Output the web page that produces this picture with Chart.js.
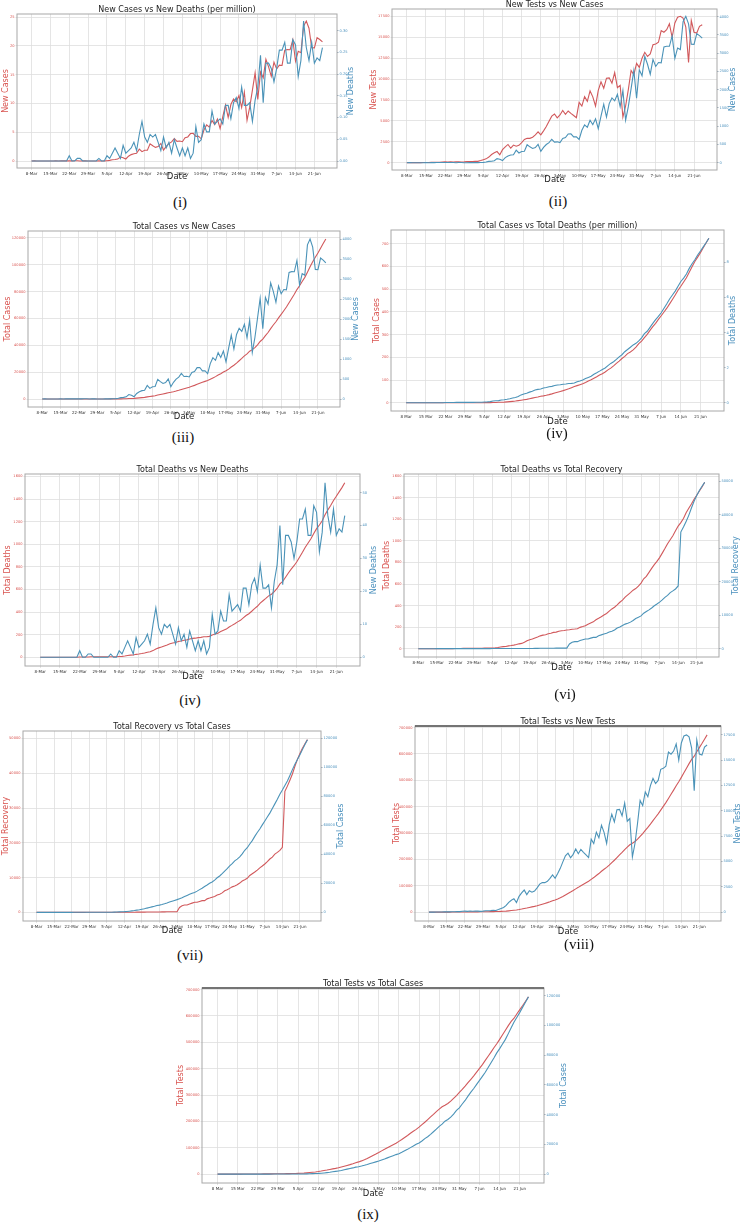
<!DOCTYPE html>
<html>
<head>
<meta charset="utf-8">
<title>COVID-19 dual axis charts</title>
<script src="https://cdn.jsdelivr.net/npm/chart.js@4.4.0/dist/chart.umd.min.js"></script>
<style>
  html, body { margin: 0; padding: 0; background: #fff; }
  body { position: relative; width: 744px; height: 1224px; overflow: hidden; }
  canvas { position: absolute; }
  .cap { position: absolute; transform: translate(-50%, -50%); font-family: "Liberation Serif", "DejaVu Serif", serif; font-size: 15px; color: #111; white-space: nowrap; }
</style>
</head>
<body>
<script>
// daily values, index 0 = 8 Mar ... index 108 = 24 Jun
const weekLabels = ['8-Mar','15-Mar','22-Mar','29-Mar','5-Apr','12-Apr','19-Apr','26-Apr','3-May','10-May','17-May','24-May','31-May','7-Jun','14-Jun','21-Jun'];
const weekLabelsSpaced = ['8 Mar','15 Mar','22 Mar','29 Mar','5 Apr','12 Apr','19 Apr','26 Apr','3 May','10 May','17 May','24 May','31 May','7 Jun','14 Jun','21 Jun'];

const newCases = [0,3,0,0,0,0,0,2,0,3,2,4,3,3,4,3,6,6,0,5,4,0,0,1,2,
  3,2,5,9,18,35,41,54,112,94,58,139,182,209,219,341,266,306,312,492,434,390,414,503,309,418,497,549,641,564,
  571,552,665,688,786,790,706,709,636,887,1034,969,1162,1041,1202,930,1273,1602,1251,1617,1773,1694,1873,1532,1975,1166,1541,2029,2523,1764,2545,
  2381,2911,2695,2423,2828,2635,2743,2735,3171,3190,3187,3471,2856,3141,3099,3862,4008,3803,3243,3240,3531,3480,3412];

const totalCases = [0,3,3,3,3,3,3,5,5,8,10,14,17,20,24,27,33,39,39,44,48,48,48,49,51,
  54,56,61,70,88,123,164,218,330,424,482,621,803,1012,1231,1572,1838,2144,2456,2948,3382,3772,4186,4689,4998,5416,5913,6462,7103,7667,
  8238,8790,9455,10143,10929,11719,12425,13134,13770,14657,15691,16660,17822,18863,20065,20995,22268,23870,25121,26738,28511,30205,32078,33610,35585,36751,38292,40321,42844,44608,47153,
  49534,52445,55140,57563,60391,63026,65769,68504,71675,74865,78052,81523,84379,87520,90619,94481,98489,102292,105535,108775,112306,115786,119198];

const newDeaths = [0,0,0,0,0,0,0,0,0,0,0,0,0,0,
  2,0,0,1,1,0,0,0,0,0,0,
  1,0,0,2,1,3,5,3,1,6,3,4,5,7,4,10,15,9,7,10,9,10,7,4,9,5,7,3,8,5,
  2,5,2,5,1,3,13,7,8,14,11,11,19,14,15,16,14,21,21,16,22,24,20,28,21,21,22,15,23,28,40,
  22,37,37,35,30,35,42,42,45,37,37,46,44,32,38,53,43,38,45,37,39,38,43];

const totalDeaths = [0,0,0,0,0,0,0,0,0,0,0,0,0,0,
  2,2,2,3,4,4,4,4,4,4,4,
  5,5,5,7,8,11,16,19,20,26,29,33,38,45,49,59,74,83,90,100,109,119,126,130,139,144,151,154,162,167,
  169,174,176,181,182,185,198,205,213,227,238,249,268,282,297,313,327,348,369,385,407,431,451,479,500,521,543,558,581,609,649,
  671,708,745,780,810,845,887,929,974,1011,1048,1094,1138,1170,1208,1261,1304,1342,1387,1424,1463,1501,1544];

const newCasesPM = [0,0.02,0,0,0,0,0,0.01,0,0.02,0.01,0.02,0.02,0.02,0.02,0.02,0.04,0.04,0,0.03,0.02,0,0,0.01,0.01,
  0.02,0.01,0.03,0.05,0.11,0.21,0.25,0.33,0.68,0.57,0.35,0.84,1.11,1.27,1.33,2.07,1.62,1.86,1.89,2.99,2.64,2.37,2.51,3.05,1.88,2.54,3.02,3.33,3.89,3.42,
  3.47,3.35,4.04,4.18,4.77,4.80,4.29,4.31,3.86,5.39,6.28,5.88,7.06,6.32,7.30,5.65,7.73,9.73,7.60,9.82,10.77,10.29,11.37,9.30,11.99,7.08,9.36,12.32,15.32,10.71,15.45,
  14.46,17.68,16.36,14.71,17.17,16.00,16.66,16.61,19.25,19.37,19.35,21.08,17.34,19.07,18.82,23.45,24.34,23.09,19.69,19.67,21.44,21.13,20.72];

const newDeathsPM = [0,0,0,0,0,0,0,0,0,0,0,0,0,0,
  0.012,0,0,0.006,0.006,0,0,0,0,0,0,
  0.006,0,0,0.012,0.006,0.018,0.030,0.018,0.006,0.036,0.018,0.024,0.030,0.043,0.024,0.061,0.091,0.055,0.043,0.061,0.055,0.061,0.043,0.024,0.055,0.030,0.043,0.018,0.049,0.030,
  0.012,0.030,0.012,0.030,0.006,0.018,0.079,0.043,0.049,0.085,0.067,0.067,0.115,0.085,0.091,0.097,0.085,0.128,0.128,0.097,0.134,0.146,0.121,0.170,0.128,0.128,0.134,0.091,0.140,0.170,0.243,
  0.134,0.225,0.225,0.213,0.182,0.213,0.255,0.255,0.273,0.225,0.225,0.279,0.267,0.194,0.231,0.322,0.261,0.231,0.273,0.225,0.237,0.231,0.261];

const totalCasesPM = [0,0.02,0.02,0.02,0.02,0.02,0.02,0.03,0.03,0.05,0.06,0.09,0.10,0.12,0.15,0.16,0.20,0.24,0.24,0.27,0.29,0.29,0.29,0.30,0.31,
  0.33,0.34,0.37,0.43,0.53,0.75,1.0,1.3,2.0,2.6,2.9,3.8,4.9,6.1,7.5,9.5,11.2,13.0,14.9,17.9,20.5,22.9,25.4,28.5,30.3,32.9,35.9,39.2,43.1,46.6,
  50.0,53.4,57.4,61.6,66.4,71.2,75.4,79.7,83.6,89.0,95.3,101.2,108.2,114.5,121.8,127.5,135.2,144.9,152.5,162.4,173.1,183.4,194.8,204.1,216.1,223.2,232.5,244.8,260.1,270.9,286.3,
  300.8,318.4,334.8,349.5,366.7,382.7,399.3,416.0,435.2,454.6,473.9,495.0,512.3,531.4,550.2,573.7,598.0,621.1,640.8,660.5,681.9,703.1,723.8];

const totalDeathsPM = [0,0,0,0,0,0,0,0,0,0,0,0,0,0,
  0.012,0.012,0.012,0.018,0.024,0.024,0.024,0.024,0.024,0.024,0.024,
  0.030,0.030,0.030,0.043,0.049,0.067,0.097,0.115,0.121,0.158,0.176,0.200,0.231,0.273,0.298,0.358,0.449,0.504,0.546,0.607,0.662,0.723,0.765,0.789,0.844,0.874,0.917,0.935,0.984,1.014,
  1.026,1.057,1.069,1.099,1.105,1.123,1.202,1.245,1.293,1.378,1.445,1.512,1.627,1.712,1.803,1.901,1.986,2.113,2.241,2.338,2.471,2.617,2.738,2.908,3.036,3.164,3.297,3.388,3.528,3.698,3.941,
  4.074,4.299,4.524,4.736,4.918,5.131,5.386,5.641,5.914,6.139,6.363,6.643,6.910,7.104,7.335,7.657,7.918,8.149,8.422,8.647,8.883,9.114,9.375];

const totalRecovery = [0,0,0,0,0,0,0,3,3,3,3,3,3,3,3,3,3,7,7,11,15,19,25,26,26,
  26,26,30,33,33,33,33,33,33,36,39,42,42,49,49,58,58,66,75,85,92,108,112,113,122,131,150,155,160,174,
  177,177,1403,1910,2101,2101,2414,2650,2902,2902,3147,3361,3361,3882,4117,4373,4585,4993,5207,5602,6190,6486,6901,7334,7579,7925,8425,9015,9375,9781,10597,
  11120,11590,12161,12804,13325,13903,14560,15336,15899,16748,17249,17827,18730,34800,36300,38000,39800,42000,44000,45700,47200,48500,49666];

const newTests = [10,20,16,21,18,22,31,35,38,48,49,64,63,90,110,82,126,92,118,109,90,109,153,140,157,
  181,170,260,367,468,679,981,1184,1340,954,1570,1905,2190,1740,2114,1974,2090,2404,2779,2937,2920,3057,3339,3686,3345,3812,4332,4968,5573,5827,
  5368,5711,6241,5776,6190,5907,5654,5394,7208,6773,7900,7347,8582,7876,6782,8648,9675,8908,10111,10147,9515,10767,8977,9245,5451,6782,8779,11024,10516,11876,11400,
  12500,13200,12700,13000,14100,14200,14400,15800,15600,15900,16600,15000,16700,17400,17500,17300,16200,12000,17000,15600,15500,16300,16500];

const totalTests = [10,30,46,67,85,107,138,173,211,259,308,372,435,525,635,717,843,935,1053,1162,1252,1361,1514,1654,1811,
  1992,2162,2422,2789,3257,3936,4917,6101,7441,8395,9965,11870,14060,15800,17914,19888,21978,24382,27161,30098,33018,36075,39414,43100,46445,50257,54589,59557,65130,70957,
  76325,82036,88277,94053,100243,106150,111804,117198,124406,131179,139079,146426,155008,162884,169666,178314,187989,196897,207008,217155,226670,237437,246414,255659,261110,267892,276671,287695,298211,310087,321487,
  333987,347187,359887,372887,386987,401187,415587,431387,446987,462887,479487,494487,511187,528587,546087,563387,579587,591587,608587,624187,639687,655987,672487];

const dayIndex = newCases.map((_, i) => i);

const RED = '#d1595c';
const BLUE = '#4b93b8';
const RED_TXT = '#d9534f';
const BLUE_TXT = '#4a90bd';
const GRID = '#dedede';

Chart.defaults.font.family = '"DejaVu Sans", sans-serif';

// frame = [left, top, right, bottom] of the plot box on the page
const panels = [
  { title: 'New Cases vs New Deaths (per million)', frame: [17, 14, 337, 168], yl: 6, yr: 351, dateY: 177,
    left: { label: 'New Cases', data: newCasesPM, step: 5, dec: 0 },
    right: { label: 'New Deaths', data: newDeathsPM, step: 0.05, dec: 2 }, cap: '(i)', capAt: [180, 202] },
  { title: 'New Tests vs New Cases', frame: [392, 9, 717, 170], yl: 374, yr: 733, dateY: 180,
    left: { label: 'New Tests', data: newTests, step: 2500, dec: 0 },
    right: { label: 'New Cases', data: newCases, step: 500, dec: 0 }, cap: '(ii)', capAt: [558, 201] },
  { title: 'Total Cases vs New Cases', frame: [28, 231, 340, 407], yl: 8, yr: 356, dateY: 417,
    left: { label: 'Total Cases', data: totalCases, step: 20000, dec: 0 },
    right: { label: 'New Cases', data: newCases, step: 500, dec: 0 }, cap: '(iii)', capAt: [183, 437] },
  { title: 'Total Cases vs Total Deaths (per million)', frame: [391, 230, 724, 411], yl: 377, yr: 733, dateY: 422, spaced: true,
    left: { label: 'Total Cases', data: totalCasesPM, step: 100, dec: 0 },
    right: { label: 'Total Deaths', data: totalDeathsPM, step: 2, dec: 0 }, cap: '(iv)', capAt: [557, 433] },
  { title: 'Total Deaths vs New Deaths', frame: [25, 474, 360, 666], yl: 8, yr: 374, dateY: 677,
    left: { label: 'Total Deaths', data: totalDeaths, step: 200, dec: 0 },
    right: { label: 'New Deaths', data: newDeaths, step: 10, dec: 0 }, cap: '(iv)', capAt: [190, 700] },
  { title: 'Total Deaths vs Total Recovery', frame: [404, 474, 719, 657], yl: 387, yr: 736, dateY: 668,
    left: { label: 'Total Deaths', data: totalDeaths, step: 200, dec: 0 },
    right: { label: 'Total Recovery', data: totalRecovery, step: 10000, dec: 0 }, cap: '(vi)', capAt: [565, 694] },
  { title: 'Total Recovery vs Total Cases', frame: [23, 731, 321, 921], yl: 6, yr: 341, dateY: 931,
    left: { label: 'Total Recovery', data: totalRecovery, step: 10000, dec: 0 },
    right: { label: 'Total Cases', data: totalCases, step: 20000, dec: 0 }, cap: '(vii)', capAt: [190, 955] },
  { title: 'Total Tests vs New Tests', frame: [415, 726, 721, 921], yl: 397, yr: 738, dateY: 932, darkTop: true,
    left: { label: 'Total Tests', data: totalTests, step: 100000, dec: 0 },
    right: { label: 'New Tests', data: newTests, step: 2500, dec: 0 }, cap: '(viii)', capAt: [579, 944] },
  { title: 'Total Tests vs Total Cases', frame: [202, 988, 544, 1183], yl: 181, yr: 564, dateY: 1194, spaced: true, darkTop: true,
    left: { label: 'Total Tests', data: totalTests, step: 100000, dec: 0 },
    right: { label: 'Total Cases', data: totalCases, step: 20000, dec: 0 }, cap: '(ix)', capAt: [368, 1214] }
];

function paddedRange(values) {
  const lo = Math.min(...values), hi = Math.max(...values);
  const pad = (hi - lo) * 0.05;
  return { min: lo - pad, max: hi + pad };
}

function stepTicks(step) {
  return (scale) => {
    const out = [];
    for (let k = Math.ceil(scale.min / step - 1e-9); k * step <= scale.max + 1e-9; k++) {
      out.push({ value: k * step });
    }
    scale.ticks = out;
  };
}

// frame, title and right-hand axis label (matplotlib reads it bottom to top)
const panelDecor = {
  id: 'panelDecor',
  afterDraw(chart, args, opts) {
    const { ctx, chartArea: a } = chart;
    ctx.save();
    ctx.strokeStyle = '#a8a8a8';
    ctx.lineWidth = 1;
    ctx.strokeRect(a.left, a.top, a.right - a.left, a.bottom - a.top);
    if (opts.darkTop) {
      ctx.strokeStyle = '#555';
      ctx.lineWidth = 1.6;
      ctx.beginPath();
      ctx.moveTo(a.left, a.top);
      ctx.lineTo(a.right, a.top);
      ctx.stroke();
    }
    ctx.fillStyle = '#222';
    ctx.font = '8px "DejaVu Sans"';
    ctx.textAlign = 'center';
    ctx.textBaseline = 'middle';
    ctx.fillText(opts.title, (a.left + a.right) / 2, a.top - 4.5);
    ctx.translate(opts.rightX, (a.top + a.bottom) / 2);
    ctx.rotate(-Math.PI / 2);
    ctx.fillStyle = BLUE_TXT;
    ctx.fillText(opts.rightLabel, 0, 0);
    ctx.restore();
  }
};

panels.forEach((p) => {
  const [L, T, R, B] = p.frame;
  const cx0 = Math.floor(p.yl - 5);
  const cx1 = Math.ceil(p.yr + 5);
  const cy0 = T - 16;
  const cy1 = Math.ceil(p.dateY + 5);

  const cv = document.createElement('canvas');
  cv.width = cx1 - cx0;
  cv.height = cy1 - cy0;
  cv.style.left = cx0 + 'px';
  cv.style.top = cy0 + 'px';
  document.body.appendChild(cv);

  const lr = paddedRange(p.left.data);
  const rr = paddedRange(p.right.data);
  const xr = paddedRange(dayIndex);
  const labels = p.spaced ? weekLabelsSpaced : weekLabels;

  new Chart(cv, {
    type: 'line',
    data: {
      labels: dayIndex,
      datasets: [
        { data: p.left.data, yAxisID: 'yL', borderColor: RED, order: 1 },
        { data: p.right.data, yAxisID: 'yR', borderColor: BLUE, order: 0 }
      ]
    },
    options: {
      responsive: false,
      animation: false,
      events: [],
      layout: { padding: { top: T - cy0, left: 0, right: 0, bottom: 0 } },
      elements: { point: { radius: 0 }, line: { borderWidth: 1.1, tension: 0 } },
      plugins: {
        legend: { display: false },
        tooltip: { enabled: false },
        panelDecor: { title: p.title, rightLabel: p.right.label, rightX: p.yr - cx0, darkTop: !!p.darkTop }
      },
      scales: {
        x: {
          type: 'linear', bounds: 'data', min: xr.min, max: xr.max,
          afterBuildTicks: (s) => { s.ticks = labels.map((_, i) => ({ value: i * 7 })); },
          afterFit: (s) => { s.height = cy1 - B; },
          grid: { color: GRID, lineWidth: 0.8, tickLength: 2 },
          border: { display: false },
          ticks: { autoSkip: false, maxRotation: 0, minRotation: 0, padding: 1.5, color: '#333', font: { size: 4 },
            callback: (v, i) => labels[i] },
          title: { display: true, text: 'Date', color: '#222', font: { size: 8.5 }, padding: 0 }
        },
        yL: {
          type: 'linear', position: 'left', bounds: 'data', min: lr.min, max: lr.max,
          afterBuildTicks: stepTicks(p.left.step),
          afterFit: (s) => { s.width = L - cx0; },
          grid: { color: GRID, lineWidth: 0.8, tickLength: 1.5 },
          border: { display: false },
          ticks: { autoSkip: false, padding: 1, color: RED_TXT, font: { size: 3.6 },
            callback: (v) => v.toFixed(p.left.dec) },
          title: { display: true, text: p.left.label, color: RED_TXT, font: { size: 8 }, padding: 0 }
        },
        yR: {
          type: 'linear', position: 'right', bounds: 'data', min: rr.min, max: rr.max,
          afterBuildTicks: stepTicks(p.right.step),
          afterFit: (s) => { s.width = cx1 - R; },
          grid: { drawOnChartArea: false, color: '#9ab', tickLength: 1.5 },
          border: { display: false },
          ticks: { autoSkip: false, padding: 1, color: BLUE_TXT, font: { size: 3.6 },
            callback: (v) => v.toFixed(p.right.dec) }
        }
      }
    },
    plugins: [panelDecor]
  });

  const cap = document.createElement('div');
  cap.className = 'cap';
  cap.textContent = p.cap;
  cap.style.left = p.capAt[0] + 'px';
  cap.style.top = p.capAt[1] + 'px';
  document.body.appendChild(cap);
});
</script>
</body>
</html>
